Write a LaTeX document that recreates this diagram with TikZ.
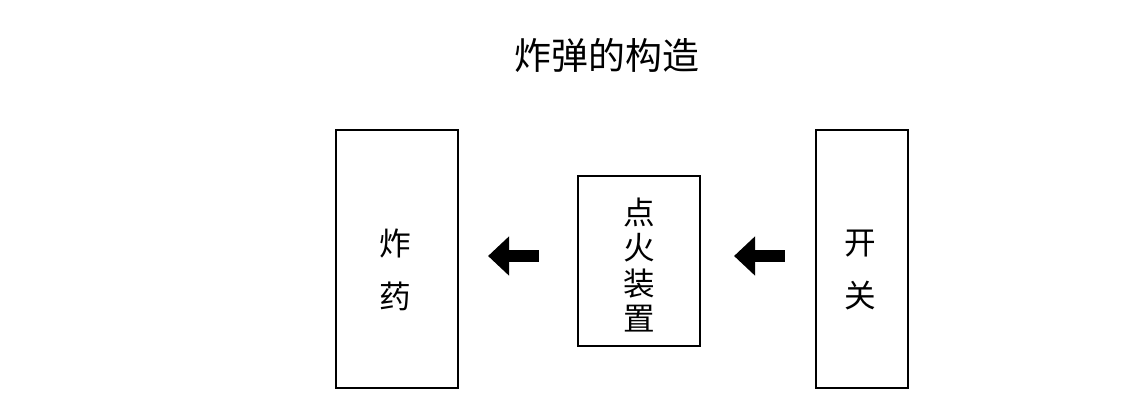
\documentclass[tikz,border=0pt]{standalone}
\usepackage{fontspec}
\newfontfamily\cjk{Noto Sans CJK SC}
\usetikzlibrary{arrows.meta}
\begin{document}
\begin{tikzpicture}
[
 x=0.02cm, y=-0.02cm,
 every node/.style={font=\cjk\fontsize{18}{20}\selectfont, align=center},
 BOX/.style={rectangle, draw=black, line width=1.2pt, inner sep=0pt},
 PUSH/.style={line width=0.24cm, -{Triangle[length=0.42cm, width=0.76cm]}},
 ]
%
\useasboundingbox (0,0) rectangle (1121,408);
%
\node [font=\cjk\fontsize{21}{24}\selectfont] (title) at (607,55) {炸弹的构造};
%
\node [BOX, minimum width=2.44cm, minimum height=5.16cm] (powder) at (397,259) {};
\node [BOX, minimum width=2.44cm, minimum height=3.4cm]  (igniter) at (639,261) {};
\node [BOX, minimum width=1.84cm, minimum height=5.16cm] (switch) at (862,259) {};
%
\node (powderlbl)  at (395,270)  {炸\\[10pt]药};
\node (igniterlbl) at (639,265) {点\\火\\装\\置};
\node (switchlbl)  at (860,270)  {开\\[10pt]关};
%
\draw [PUSH, shorten <=0.76cm, shorten >=0.58cm] (igniter.west |- 0,256) -- (powder.east |- 0,256);
\draw [PUSH, shorten <=0.6cm, shorten >=0.66cm]  (switch.west |- 0,256) -- (igniter.east |- 0,256);
%
\end{tikzpicture}
\end{document}
